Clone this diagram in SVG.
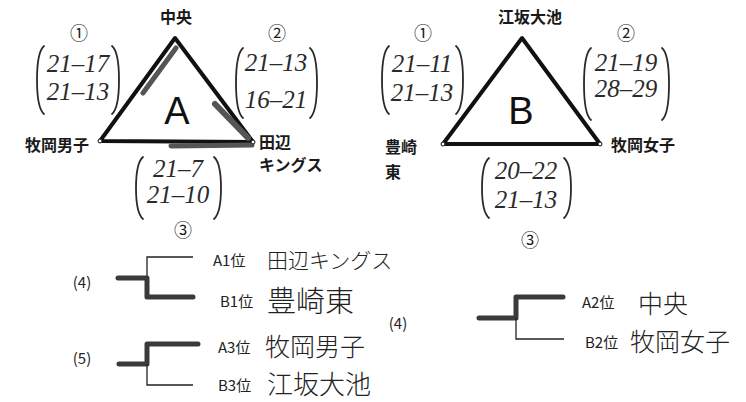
<svg xmlns="http://www.w3.org/2000/svg" width="746" height="402" viewBox="0 0 746 402">
<style>
.lbl{font-family:"Noto Sans CJK JP","Noto Sans",sans-serif;font-weight:700;font-size:16px;fill:#1a1a1a}
.num{font-family:"Noto Sans CJK JP","DejaVu Sans",sans-serif;font-size:18px;fill:#1a1a1a}
.big{font-family:"Liberation Sans",Arial,sans-serif;font-size:38px;fill:#111}
.hand{font-family:"Liberation Serif",serif;font-style:italic;font-size:25px;fill:#2a2a2a}
.pr{font-family:"Noto Sans CJK JP","Noto Sans",sans-serif;font-size:15px;fill:#222}
.hj{font-family:"Noto Sans CJK JP",sans-serif;font-weight:300;fill:#222}
.tri{fill:#fff;stroke:#111;stroke-width:4;stroke-linejoin:round}
.dot{fill:#fff;stroke:#111;stroke-width:1}
.shade{fill:none;stroke:#555;stroke-width:5;stroke-linecap:round}
.br{fill:none;stroke:#2a2a2a;stroke-width:1.8;stroke-linecap:round}
.thin{fill:none;stroke:#222;stroke-width:1.3}
.thick{fill:none;stroke:#3a3a3a;stroke-width:5;stroke-linecap:round;stroke-linejoin:round}
</style>

<g id="groupA">
  <polygon class="tri" points="175,38 100,141 253,142"/>
  <line class="shade" x1="176" y1="48" x2="143" y2="93"/>
  <line class="shade" x1="215" y1="104" x2="248" y2="138" style="stroke-width:6"/>
  <line class="shade" x1="171" y1="146" x2="252" y2="145"/>
  <circle class="dot" cx="100" cy="141" r="2"/>
  <circle class="dot" cx="253" cy="142" r="2"/>
  <text class="big" x="177" y="124" text-anchor="middle">A</text>
</g>

<g id="teamA-chuo"><text class="lbl" x="176" y="23" text-anchor="middle">中央</text></g>
<g id="teamA-hirakata"><text class="lbl" x="57" y="151" text-anchor="middle">牧岡男子</text></g>
<g id="teamA-tanabe">
  <text class="lbl" x="259" y="148">田辺</text>
  <text class="lbl" x="259" y="171">キングス</text>
</g>

<g id="scoreA1">
  <text class="num" x="79" y="40" text-anchor="middle">①</text>
  <path class="br" d="M44,46 Q37,52 37,80 Q37,108 44,114"/>
  <path class="br" d="M112,46 Q119,52 119,80 Q119,108 112,114"/>
  <text class="hand" x="78" y="72" text-anchor="middle">21–17</text>
  <text class="hand" x="78" y="100" text-anchor="middle">21–13</text>
</g>
<g id="scoreA2">
  <text class="num" x="277" y="40" text-anchor="middle">②</text>
  <path class="br" d="M243,48 Q236,54 236,83 Q236,112 243,118"/>
  <path class="br" d="M310,48 Q317,54 317,83 Q317,112 310,118"/>
  <text class="hand" x="276" y="71" text-anchor="middle">21–13</text>
  <text class="hand" x="276" y="108" text-anchor="middle">16–21</text>
</g>
<g id="scoreA3">
  <path class="br" d="M143,157 Q136,163 136,188 Q136,213 143,219"/>
  <path class="br" d="M214,157 Q221,163 221,188 Q221,213 214,219"/>
  <text class="hand" x="178" y="177" text-anchor="middle">21–7</text>
  <text class="hand" x="178" y="203" text-anchor="middle">21–10</text>
  <text class="num" x="183" y="237" text-anchor="middle">③</text>
</g>

<g id="groupB">
  <polygon class="tri" points="522,38 443,144 600,144"/>
  <circle class="dot" cx="443" cy="144" r="2"/>
  <circle class="dot" cx="600" cy="144" r="2"/>
  <text class="big" x="521" y="124" text-anchor="middle">B</text>
</g>

<g id="teamB-esaka"><text class="lbl" x="530" y="23" text-anchor="middle">江坂大池</text></g>
<g id="teamB-toyosaki">
  <text class="lbl" x="385" y="153">豊崎</text>
  <text class="lbl" x="385" y="178">東</text>
</g>
<g id="teamB-hirakatajo"><text class="lbl" x="611" y="151">牧岡女子</text></g>

<g id="scoreB1">
  <text class="num" x="423" y="40" text-anchor="middle">①</text>
  <path class="br" d="M389,46 Q382,52 382,80 Q382,108 389,114"/>
  <path class="br" d="M456,46 Q463,52 463,80 Q463,108 456,114"/>
  <text class="hand" x="422" y="72" text-anchor="middle">21–11</text>
  <text class="hand" x="422" y="101" text-anchor="middle">21–13</text>
</g>
<g id="scoreB2">
  <text class="num" x="626" y="40" text-anchor="middle">②</text>
  <path class="br" d="M591,48 Q584,54 584,84 Q584,114 591,120"/>
  <path class="br" d="M662,48 Q669,54 669,84 Q669,114 662,120"/>
  <text class="hand" x="626" y="71" text-anchor="middle">21–19</text>
  <text class="hand" x="626" y="97" text-anchor="middle">28–29</text>
</g>
<g id="scoreB3">
  <path class="br" d="M489,158 Q482,164 482,188 Q482,212 489,218"/>
  <path class="br" d="M564,158 Q571,164 571,188 Q571,212 564,218"/>
  <text class="hand" x="526" y="179" text-anchor="middle">20–22</text>
  <text class="hand" x="526" y="208" text-anchor="middle">21–13</text>
  <text class="num" x="530" y="247" text-anchor="middle">③</text>
</g>

<g id="match4-left">
  <text class="pr" x="82" y="288" text-anchor="middle">(4)</text>
  <text class="pr" x="213" y="266">A1位</text>
  <text class="hj" x="267" y="268" font-size="21">田辺キングス</text>
  <text class="pr" x="220" y="307">B1位</text>
  <text class="hj" x="267" y="312" font-size="29">豊崎東</text>
</g>
<g id="match5">
  <text class="pr" x="82" y="364" text-anchor="middle">(5)</text>
  <text class="pr" x="218" y="353">A3位</text>
  <text class="hj" x="265" y="356" font-size="25">牧岡男子</text>
  <text class="pr" x="218" y="391">B3位</text>
  <text class="hj" x="267" y="394" font-size="26">江坂大池</text>
</g>
<g id="match4-right">
  <text class="pr" x="398" y="329" text-anchor="middle">(4)</text>
  <text class="pr" x="582" y="308">A2位</text>
  <text class="hj" x="638" y="313" font-size="25">中央</text>
  <text class="pr" x="585" y="348">B2位</text>
  <text class="hj" x="630" y="351" font-size="25">牧岡女子</text>
</g>

<g id="connectors">
  <polyline class="thin" points="193,257 147,257 147,280"/>
  <polyline class="thick" points="118,278 147,278 147,297 193,297"/>
  <polyline class="thick" points="119,364 147,364 147,344 198,344"/>
  <polyline class="thin" points="147,364 147,385 193,385"/>
  <polyline class="thick" points="479,318 516,318 516,297 563,297"/>
  <polyline class="thin" points="516,318 516,339 564,339"/>
</g>
</svg>
